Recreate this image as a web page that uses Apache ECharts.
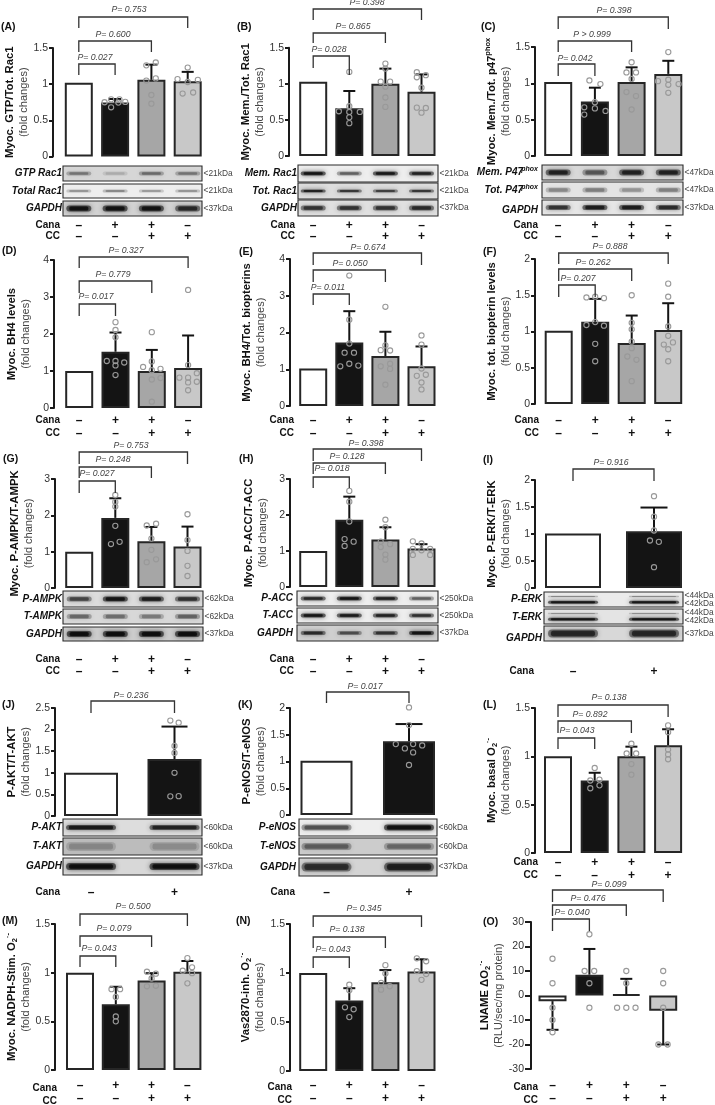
<!DOCTYPE html>
<html><head><meta charset="utf-8">
<style>html,body{margin:0;padding:0;background:#fff}#c{width:715px;height:1105px}</style>
<script src="https://cdn.jsdelivr.net/npm/echarts@6/dist/echarts.min.js"></script>
</head><body><div id="c"></div>
<script>
// ---------- tick labels ----------
const ticks4 = ['–\n–', '+\n–', '+\n+', '–\n+'];
const ticks2 = ['–', '+'];
const fills4 = ['#ffffff', '#141414', '#a6a6a6', '#c8c8c8'];
const fills2 = ['#ffffff', '#141414'];
// ---------- series values: means, error-bar ends, individual points [bar position, value] ----------
const meansA = [1.02, 0.745, 1.06, 1.04], errA = [null, 0.795, 1.27, 1.17];
const pointsA = [[0.89,0.79],[1.12,0.79],[0.71,0.75],[1.28,0.755],[1.09,0.745],[0.89,0.68],[1.86,1.26],[2.12,1.30],[1.86,1.05],[2.12,1.08],[2,0.85],[2,0.73],[3,1.23],[2.72,1.07],[3.28,1.06],[3,1.03],[2.86,0.87],[3.15,0.885]];
const meansB = [1.03, 0.66, 1.0, 0.89], errB = [null, 0.90, 1.21, 1.13];
const pointsB = [[1,1.165],[1,0.69],[0.71,0.62],[1,0.61],[1.29,0.61],[1,0.535],[1,0.455],[2,1.28],[2,1.21],[1.87,1.03],[2.13,1.03],[2,0.96],[2,0.81],[2,0.68],[2.87,1.16],[2.87,1.09],[3.12,1.12],[3,0.945],[2.87,0.67],[3.12,0.665],[3,0.6]];
const meansC = [1.02, 0.75, 1.02, 1.13], errC = [null, 0.94, 1.22, 1.31];
const pointsC = [[0.85,1.04],[1.15,0.99],[1,0.74],[0.71,0.67],[1,0.655],[0.71,0.57],[1.29,0.62],[2,1.29],[1.86,1.15],[2.12,1.15],[2,1.06],[1.86,0.88],[2.12,0.825],[2,0.64],[3,1.43],[2.72,1.03],[3,1.05],[3.28,0.99],[3,0.98],[3,0.87]];
const meansD = [1.0, 1.52, 1.0, 1.08], errD = [null, 2.04, 1.57, 1.96];
const pointsD = [[1,2.32],[1,2.11],[1,1.91],[0.76,1.27],[1,1.27],[1.24,1.23],[1,1.15],[1,0.89],[2,2.05],[2,1.26],[1.76,1.11],[2.24,1.06],[2,1.02],[2,0.77],[2.24,0.81],[2,0.17],[3,3.19],[3,1.16],[3.24,0.94],[2.76,0.82],[3,0.82],[3,0.69],[3.24,0.71],[3,0.48]];
const meansE = [1.02, 1.73, 1.36, 1.08], errE = [null, 2.58, 2.02, 1.62];
const pointsE = [[1,3.55],[1,2.35],[1,1.7],[0.87,1.45],[1.13,1.45],[0.75,1.08],[1,1.15],[1.25,1.1],[2,2.7],[2,1.65],[1.87,1.52],[2.13,1.51],[1.87,1.08],[2.13,1.15],[2.13,1.01],[2,0.58],[3,1.92],[3,1.67],[3,1.02],[2.87,0.82],[3.12,0.85],[3,0.64],[3,0.45]];
const meansF = [1.01, 1.135, 0.84, 1.02], errF = [null, 1.45, 1.22, 1.39];
const pointsF = [[0.76,1.47],[1,1.48],[1.24,1.46],[0.76,1.09],[1,1.13],[1.24,1.08],[1,0.83],[1,0.59],[2,1.5],[2,1.12],[2,1.03],[2,0.86],[2,0.77],[1.88,0.655],[2.13,0.61],[2,0.315],[3,1.66],[3,1.48],[3,1.07],[3,0.94],[3.13,0.85],[2.88,0.82],[3,0.755],[3,0.59]];
const meansG = [1.0, 1.93, 1.29, 1.14], errG = [null, 2.47, 1.68, 1.69];
const pointsG = [[1,2.56],[1,2.37],[1,2.24],[1,1.71],[0.88,1.21],[1.12,1.27],[1.87,1.72],[2.13,1.77],[2,1.36],[2,1.05],[1.87,0.71],[2.13,0.79],[3,2.03],[3,1.32],[3,1.02],[3,0.61],[3,0.33]];
const meansH = [1.0, 1.865, 1.32, 1.07], errH = [null, 2.51, 1.66, 1.19];
const pointsH = [[1,2.67],[1,2.37],[1,1.82],[0.87,1.33],[0.87,1.14],[1.12,1.26],[2,1.87],[2,1.66],[1.87,1.26],[2.13,1.19],[1.87,1.11],[2,0.9],[2,0.76],[2.76,1.27],[3,1.21],[2.76,1.06],[3.24,1.06],[3,1.02],[2.76,0.89],[3.24,0.89]];
const meansI = [1.01, 1.05], errI = [null, 1.49];
const pointsI = [[1,1.70],[1,1.32],[1,1.065],[0.95,0.88],[1.06,0.855],[1,0.385]];
const meansJ = [1.0, 1.32], errJ = [null, 2.07];
const pointsJ = [[0.95,2.21],[1.05,2.16],[1,1.62],[1,1.46],[1,1.0],[0.95,0.455],[1.05,0.46]];
const meansK = [1.015, 1.38], errK = [null, 1.70];
const pointsK = [[1,2.01],[1,1.68],[0.84,1.325],[0.95,1.245],[1.05,1.325],[1.16,1.3],[1.05,1.17],[1,0.935]];
const meansL = [1.0, 0.75, 1.0, 1.115], errL = [null, 0.83, 1.10, 1.28];
const pointsL = [[1,0.88],[0.88,0.75],[1.13,0.76],[0.88,0.67],[1.13,0.70],[2,1.13],[1.87,1.03],[2.13,1.03],[2,0.92],[2,0.81],[3,1.32],[3,1.25],[3,1.07],[3,1.02],[3,0.97]];
const meansM = [1.0, 0.675, 0.92, 1.01], errM = [null, 0.855, 0.995, 1.12];
const pointsM = [[0.88,0.83],[1.12,0.83],[1,0.75],[1,0.55],[1,0.50],[1.87,1.01],[2.12,0.99],[2,0.94],[1.87,0.86],[2.12,0.865],[3,1.15],[3.13,1.055],[2.87,1.02],[3.13,0.995],[3,0.89]];
const meansN = [1.0, 0.72, 0.905, 1.015], errN = [null, 0.845, 1.03, 1.14];
const pointsN = [[1,0.88],[1,0.825],[0.88,0.65],[1.12,0.63],[1,0.55],[2,1.08],[2,0.995],[1.88,0.9],[2.12,0.865],[1.88,0.83],[2.87,1.15],[3.13,1.12],[2.87,1.02],[3.13,0.99],[3,0.93]];
const meansO = [-2.3, 8.5, 0.5, -6.2], errO = [-14, 19, 6.8, -20];
const pointsO = [[0,15],[0,5],[0,-5],[0,-10],[0,-15],[1,25],[0.87,10],[1.13,10],[1,5],[1,-5],[2,10],[2,5],[1.75,-5],[2,-5],[2.25,-5],[3,10],[3,5],[3,-5],[2.87,-20],[3.12,-20]];
// ---------- p-value brackets: [from bar, to bar, label] ----------
const bracketsA = [[0,1,'P= 0.027'],[0,2,'P= 0.600'],[0,3,'P= 0.753']];
const bracketsB = [[0,1,'P= 0.028'],[0,2,'P= 0.865'],[0,3,'P= 0.398']];
const bracketsC = [[0,1,'P= 0.042'],[0,2,'P > 0.999'],[0,3,'P= 0.398']];
const bracketsD = [[0,1,'P= 0.017'],[0,2,'P= 0.779'],[0,3,'P= 0.327']];
const bracketsE = [[0,1,'P= 0.011'],[0,2,'P= 0.050'],[0,3,'P= 0.674']];
const bracketsF = [[0,1,'P= 0.207'],[0,2,'P= 0.262'],[0,3,'P= 0.888']];
const bracketsG = [[0,1,'P= 0.027'],[0,2,'P= 0.248'],[0,3,'P= 0.753']];
const bracketsH = [[0,1,'P= 0.018'],[0,2,'P= 0.128'],[0,3,'P= 0.398']];
const bracketsI = [[0,1,'P= 0.916']];
const bracketsJ = [[0,1,'P= 0.236']];
const bracketsK = [[0,1,'P= 0.017']];
const bracketsL = [[0,1,'P= 0.043'],[0,2,'P= 0.892'],[0,3,'P= 0.138']];
const bracketsM = [[0,1,'P= 0.043'],[0,2,'P= 0.079'],[0,3,'P= 0.500']];
const bracketsN = [[0,1,'P= 0.043'],[0,2,'P= 0.138'],[0,3,'P= 0.345']];
const bracketsO = [[0,1,'P= 0.040'],[0,2,'P= 0.476'],[0,3,'P= 0.099']];

// ---------- blot rows: name, kDa labels, background, band strength per lane, band thickness ----------
const blotsA = [['GTP Rac1',['<21kDa'],'#d6d6d6',[.38,.16,.42,.38],4],['Total Rac1',['<21kDa'],'#eeeeee',[.3,.35,.28,.3],3],['GAPDH',['<37kDa'],'#d2d2d2',[.92,.92,.92,.75],6]];
const blotsB = [['Mem. Rac1',['<21kDa'],'#eeeeee',[.95,.5,.92,.85],4],['Tot. Rac1',['<21kDa'],'#dddddd',[.85,.7,.65,.7],3],['GAPDH',['<37kDa'],'#e0e0e0',[.7,.7,.7,.75],5]];
const blotsC = [['Mem. P47|phox',['<47kDa'],'#d8d8d8',[.8,.5,.8,.8],6],['Tot. P47|phox',['<47kDa'],'#e4e4e4',[.32,.36,.28,.35],5],['GAPDH',['<37kDa'],'#e6e6e6',[.7,.85,.85,.75],5]];
const blotsG = [['P-AMPK',['<62kDa'],'#dcdcdc',[.6,.92,.85,.7],5],['T-AMPK',['<62kDa'],'#d8d8d8',[.42,.4,.35,.45],5],['GAPDH',['<37kDa'],'#cccccc',[.95,.95,.95,.95],6]];
const blotsH = [['P-ACC',['<250kDa'],'#eeeeee',[.8,.95,.85,.5],4],['T-ACC',['<250kDa'],'#eeeeee',[.95,.9,.85,.75],4],['GAPDH',['<37kDa'],'#cfcfcf',[.75,.55,.7,.95],4]];
const blotsI = [['P-ERK',['<44kDa','<42kDa'],'#ebebeb',[.95,.95],3,[.35,.35]],['T-ERK',['<44kDa','<42kDa'],'#e4e4e4',[.95,.95],3,[.3,.3]],['GAPDH',['<37kDa'],'#d8d8d8',[.75,.75],8]];
const blotsJ = [['P-AKT',['<60kDa'],'#dddddd',[.88,.8],5],['T-AKT',['<60kDa'],'#bcbcbc',[.22,.2],9],['GAPDH',['<37kDa'],'#d8d8d8',[.95,.95],7]];
const blotsK = [['P-eNOS',['<60kDa'],'#eeeeee',[.55,.95],6],['T-eNOS',['<60kDa'],'#cccccc',[.45,.4],7],['GAPDH',['<37kDa'],'#d4d4d4',[.7,.8],9]];

const foldLine = '{n|(fold changes)}';
const O2 = '{b|O}{sub|2}{sup|·-}';

// ---------- panel layout ----------
const panels = [
 {tag:'(A)',tagX:1,tagY:27,name:'{b|Myoc. GTP/Tot. Rac1}\n'+foldLine,foldX:24,axisX:53,top:48,y0:156.5,max:1.5,iv:.5,c0:78.8,sp:36.3,bw:28,m:meansA,e:errA,p:pointsA,b:bracketsA,
  bl:[[64,75,75,95,58],[41,52,52,113,35],[17,28,28,129,10]],capW:12,hdrX:60,cana:225,cc:236.5,
  blots:blotsA,bx:[63,202],rows:[[166,181],[184,198],[201,216]],lblGap:1},
 {tag:'(B)',tagX:237,tagY:27,name:'{b|Myoc. Mem./Tot. Rac1}\n'+foldLine,foldX:258,axisX:289,top:47.7,y0:156,max:1.5,iv:.5,c0:313.2,sp:36.1,bw:28,m:meansB,e:errB,p:pointsB,b:bracketsB,
  bl:[[56,68,75,329,50],[33,43,43,353,27],[9,20,20,367,3]],capW:12,hdrX:295,cana:225,cc:236.5,
  blots:blotsB,bx:[298,438],rows:[[165,182],[183,199],[200,216]],lblGap:1},
 {tag:'(C)',tagX:481,tagY:27,name:'{b|Myoc. Mem./Tot. p47}{sup|phox}\n'+foldLine,foldX:504,axisX:535,top:47,y0:156,max:1.5,iv:.5,c0:558.2,sp:36.7,bw:28,m:meansC,e:errC,p:pointsC,b:bracketsC,
  bl:[[64,76,76,575,59],[41,52,52,592,35],[17,29,29,614,11]],capW:12,hdrX:538,cana:225,cc:236.5,
  blots:blotsC,bx:[542,683],rows:[[165,180],[182,198],[200,215]],lblGap:4,lblDy:[0,0,3]},
 {tag:'(D)',tagX:2,tagY:251,name:'{b|Myoc. BH4 levels}\n'+foldLine,foldX:24,axisX:54,top:260,y0:408,max:4,iv:1,c0:79.2,sp:36.3,bw:28,m:meansD,e:errD,p:pointsD,b:bracketsD,
  bl:[[304,316,316,96,297],[281,293,293,113,275],[257,268,268,126,251]],capW:12,hdrX:60,cana:420,cc:433},
 {tag:'(E)',tagX:239,tagY:252,name:'{b|Myoc. BH4/Tot. biopterins}\n'+foldLine,foldX:259,axisX:290,top:259,y0:406,max:4,iv:1,c0:313.2,sp:36.1,bw:28,m:meansE,e:errE,p:pointsE,b:bracketsE,
  bl:[[294,305,305,328,288],[270,282,282,350,264],[253,265,265,368,248]],capW:12,hdrX:294,cana:420,cc:433},
 {tag:'(F)',tagX:483,tagY:252,name:'{b|Myoc. tot. biopterin levels}\n'+foldLine,foldX:506,axisX:535,top:259,y0:404,max:2,iv:.5,c0:558.7,sp:36.5,bw:28,m:meansF,e:errF,p:pointsF,b:bracketsF,
  bl:[[285,297,297,578,279],[269,281,281,593,263],[253,264,264,610,247]],capW:12,hdrX:539,cana:420,cc:433},
 {tag:'(G)',tagX:3,tagY:459,name:'{b|Myoc. P-AMPK/T-AMPK}\n'+foldLine,foldX:27,axisX:55,top:479,y0:588,max:3,iv:1,c0:79.2,sp:36.1,bw:28,m:meansG,e:errG,p:pointsG,b:bracketsG,
  bl:[[481,493,493,97,474],[467,478,478,113,460],[452,464,464,131,446]],capW:12,hdrX:60,cana:659,cc:671.5,
  blots:blotsG,bx:[63,203],rows:[[591,607],[609,624],[627,641]],lblGap:1},
 {tag:'(H)',tagX:239,tagY:459,name:'{b|Myoc. P-ACC/T-ACC}\n'+foldLine,foldX:261,axisX:290,top:479,y0:587,max:3,iv:1,c0:313.2,sp:36.1,bw:28,m:meansH,e:errH,p:pointsH,b:bracketsH,
  bl:[[477,488,488,332,469],[463,474,474,347,457],[449,461,461,366,444]],capW:12,hdrX:294,cana:659,cc:671.5,
  blots:blotsH,bx:[297,438],rows:[[591,606],[608,623],[625,641]],lblGap:4},
 {tag:'(I)',tagX:483,tagY:460,name:'{b|Myoc. P-ERK/T-ERK}\n'+foldLine,foldX:505,axisX:535,top:480,y0:588,max:2,iv:.5,c0:573,sp:81,bw:56,m:meansI,e:errI,p:pointsI,b:bracketsI,
  bl:[[469,481,481,611,463]],capW:27,hdrX:534,cana:671.5,cc:null,
  blots:blotsI,bx:[544,683],rows:[[592,607],[609,624],[626,641]],lblGap:2,lblDy:[0,1,5]},
 {tag:'(J)',tagX:2,tagY:705,name:'{b|P-AKT/T-AKT}\n'+foldLine,foldX:26,axisX:55,top:708,y0:816,max:2.5,iv:.5,c0:91,sp:83.5,bw:54,m:meansJ,e:errJ,p:pointsJ,b:bracketsJ,
  bl:[[701,713,713,131,696]],capW:26,hdrX:60,cana:892,cc:null,
  blots:blotsJ,bx:[63,202],rows:[[819,836],[838,855],[858,875]],lblGap:1},
 {tag:'(K)',tagX:238,tagY:705,name:'{b|P-eNOS/T-eNOS}\n'+foldLine,foldX:261,axisX:290,top:708,y0:815,max:2,iv:.5,c0:326.5,sp:82.5,bw:52,m:meansK,e:errK,p:pointsK,b:bracketsK,
  bl:[[692,703,703,365,687]],capW:27,hdrX:295,cana:892,cc:null,
  blots:blotsK,bx:[299,437],rows:[[819,836],[838,855],[858,876]],lblGap:3},
 {tag:'(L)',tagX:483,tagY:705,name:'{b|Myoc. basal }'+O2+'\n'+foldLine,foldX:505,axisX:535,top:708,y0:853,max:1.5,iv:.5,c0:558,sp:36.7,bw:28,m:meansL,e:errL,p:pointsL,b:bracketsL,
  bl:[[738,749,749,577,731],[721,733,733,590,715],[705,717,717,609,698]],capW:12,hdrX:538,cana:862,cc:875},
 {tag:'(M)',tagX:2,tagY:921,name:'{b|Myoc. NADPH-Stim. }'+O2+'\n'+foldLine,foldX:27,axisX:55,top:924,y0:1073,max:1.5,iv:.5,c0:80,sp:35.8,bw:28,m:meansM,e:errM,p:pointsM,b:bracketsM,
  bl:[[956,967,967,99,949],[936,947,947,114,929],[914,926,926,133,907]],capW:12,hdrX:57,cana:1088,cc:1101},
 {tag:'(N)',tagX:236,tagY:921,name:'{b|Vas2870-inh. }'+O2+'\n'+foldLine,foldX:258,axisX:290,top:924,y0:1073,max:1.5,iv:.5,c0:313.2,sp:36.1,bw:28,m:meansN,e:errN,p:pointsN,b:bracketsN,
  bl:[[957,968,968,333,950],[937,948,948,347,930],[916,927,927,364,909]],capW:12,hdrX:292,cana:1087,cc:1100},
 {tag:'(O)',tagX:483,tagY:922,name:'{b|LNAME Δ}'+O2+'\n{n|(RLU/sec/mg protein)}',foldX:499,axisX:531,top:922,y0:1071,min:-30,max:30,iv:10,c0:552.5,sp:36.9,bw:28,m:meansO,e:errO,p:pointsO,b:bracketsO,
  bl:[[919,931,931,572,913],[905,916,916,588,899],[890,902,902,609,885]],capW:12,hdrX:538,cana:1087,cc:1100,tick:6}
];

const FF = '"Liberation Sans", Arial, sans-serif';
const grid = [], xAxis = [], yAxis = [], series = [], graphic = [];

function addText(text, x, y, font, align, fill) {
  graphic.push({type:'text', silent:true, z:20, style:{text, x, y, font, fill:fill||'#111', align:align||'left', verticalAlign:'middle'}});
}

panels.forEach((P, k) => {
  const n = P.m.length, four = n === 4;
  const left = P.c0 - P.sp/2;
  grid.push({left, width:n*P.sp, top:P.top, height:P.y0-P.top, containLabel:false});
  const lh = P.cc ? P.cc - P.cana : 12;
  xAxis.push({type:'category', gridIndex:k, data: four ? ticks4 : ticks2,
    axisLine:{show:false, onZero:false}, axisTick:{show:false},
    axisLabel:{interval:0, margin:P.cana-P.y0-lh/2+0.5, fontSize:12, fontWeight:'bold', color:'#111', lineHeight:lh, fontFamily:FF}});
  xAxis.push({type:'value', gridIndex:k, show:false, min:-0.5, max:n-0.5});
  yAxis.push({type:'value', gridIndex:k, min:P.min||0, max:P.max, interval:P.iv, offset:left-P.axisX,
    name:P.name, nameLocation:'middle', nameRotate:90, nameGap:P.axisX-P.foldX-9,
    nameTextStyle:{fontFamily:FF, rich:{
      b:{fontFamily:FF,fontWeight:'bold',fontSize:11.3,color:'#111',lineHeight:15},
      n:{fontFamily:FF,fontSize:11,color:'#444',lineHeight:14},
      sup:{fontFamily:FF,fontWeight:'bold',fontSize:7.5,color:'#111',verticalAlign:'top',lineHeight:15},
      sub:{fontFamily:FF,fontWeight:'bold',fontSize:7.5,color:'#111',verticalAlign:'bottom',lineHeight:15}}},
    splitLine:{show:false},
    axisLine:{show:true, onZero:false, lineStyle:{color:'#1a1a1a', width:2}},
    axisTick:{show:true, length:P.tick||4, lineStyle:{color:'#1a1a1a', width:2}},
    axisLabel:{fontSize:10.5, color:'#333', fontFamily:FF, margin:(P.tick||4)+1}});

  const fills = four ? fills4 : fills2;
  series.push({type:'bar', xAxisIndex:2*k, yAxisIndex:k, barWidth:P.bw, clip:false, z:2,
    data:P.m.map((v,i)=>({value:v, itemStyle:{color:fills[i], borderColor:'#262626', borderWidth:2}}))});

  series.push({type:'custom', xAxisIndex:2*k+1, yAxisIndex:k, z:3, clip:false,
    data:P.e.map((t,i)=>[i,P.m[i],t]).filter(d=>d[2]!==null),
    renderItem:(params,api)=>{
      const a = api.coord([api.value(0),api.value(1)]), b = api.coord([api.value(0),api.value(2)]);
      const w = P.capW/2, st = {stroke:'#141414', lineWidth:2};
      return {type:'group', children:[
        {type:'line', shape:{x1:a[0],y1:a[1],x2:b[0],y2:b[1]}, style:st},
        {type:'line', shape:{x1:b[0]-w,y1:b[1],x2:b[0]+w,y2:b[1]}, style:st}]};
    }});

  series.push({type:'scatter', xAxisIndex:2*k+1, yAxisIndex:k, z:4, clip:false, symbolSize:5.2, data:P.p, silent:true,
    itemStyle:{color:'rgba(0,0,0,0)', borderColor:'#999999', borderWidth:1.1, opacity:1}});

  series.push({type:'custom', xAxisIndex:2*k+1, yAxisIndex:k, z:5, clip:false,
    data:P.b.map((d,i)=>[d[0],d[1],i]),
    renderItem:(params,api)=>{
      const i = params.dataIndex, L = P.bl[i], br = P.b[i];
      const xa = api.coord([api.value(0),0])[0], xb = api.coord([api.value(1),0])[0];
      return {type:'group', children:[
        {type:'polyline', shape:{points:[[xa,L[1]],[xa,L[0]],[xb,L[0]],[xb,L[2]]]}, style:{stroke:'#333',lineWidth:1.3,fill:null}},
        {type:'text', style:{text:br[2], x:L[3], y:L[4], align:'center', verticalAlign:'middle', font:'italic 8.7px '+FF, fill:'#444'}}]};
    }});

  // panel tag and row headers
  addText(P.tag, P.tagX, P.tagY, 'bold 10.5px '+FF);
  addText('Cana', P.hdrX, P.cana, 'bold 10px '+FF, 'right');
  if (P.cc) addText('CC', P.hdrX, P.cc, 'bold 10px '+FF, 'right');

  // blots
  if (P.blots) P.blots.forEach((R,r)=>{
    const [yT,yB] = P.rows[r], mid=(yT+yB)/2;
    graphic.push({type:'rect', silent:true, z:1, shape:{x:P.bx[0],y:yT,width:P.bx[1]-P.bx[0],height:yB-yT}, style:{fill:R[2],stroke:'#2a2a2a',lineWidth:1.1}});
    const bandW = four ? 25 : 50;
    R[3].forEach((a,i)=>{
      const cx = P.c0 + i*P.sp;
      const band = (y,h,al)=>{
        graphic.push({type:'rect', silent:true, z:2, shape:{x:cx-bandW/2,y:y-h/2,width:bandW,height:h,r:h/2},
          style:{fill:'rgba(0,0,0,'+(al*.55)+')',shadowColor:'rgba(0,0,0,'+(al*.9)+')',shadowBlur:5}});
        graphic.push({type:'rect', silent:true, z:2, shape:{x:cx-bandW/2+3,y:y-h/3,width:bandW-6,height:h*2/3,r:h/4},
          style:{fill:'rgba(0,0,0,'+(al*.7)+')',shadowColor:'rgba(0,0,0,'+(al*.6)+')',shadowBlur:3}});
      };
      if (R[5]) { band(yT+(yB-yT)*.3,1.4,R[5][i]); band(yT+(yB-yT)*.68,R[4],a); }
      else band(mid,R[4],a);
    });
    // row label: optional superscript after |
    const parts = R[0].split('|'), rx = P.bx[0]-(P.lblGap||1), ry = mid+((P.lblDy||[])[r]||0);
    if (parts[1]) {
      addText(parts[1], rx, ry-3, 'italic bold 7px '+FF, 'right');
      addText(parts[0], rx-15, ry, 'italic bold 10px '+FF, 'right');
    } else {
      addText(parts[0], rx, ry, 'italic bold 10px '+FF, 'right');
    }
    R[1].forEach((t,j)=>{
      const yy = R[1].length===2 ? mid + (j===0?-3.8:3.8) : mid;
      addText(t, P.bx[1]+1.5, yy, '8.4px '+FF, 'left', '#444');
    });
  });
});

const chart = echarts.init(document.getElementById('c'), null, {renderer:'canvas', width:715, height:1105});
chart.setOption({animation:false, backgroundColor:'#fff', textStyle:{fontFamily:FF}, grid, xAxis, yAxis, series, graphic:{elements:graphic}});
</script></body></html>
